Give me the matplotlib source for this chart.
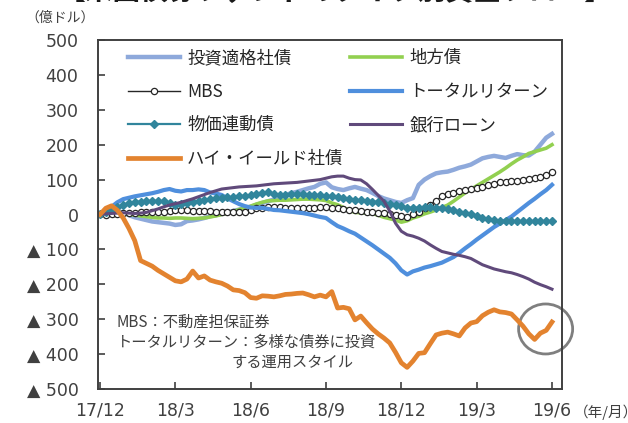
import matplotlib
matplotlib.use("Agg")
import matplotlib.pyplot as plt
from matplotlib.patches import Ellipse
import numpy as np

plt.rcParams['font.family'] = ['Noto Sans CJK JP', 'DejaVu Sans']

# ---- data (weekly cumulative flows, 100 million USD) ----
x_labels = ["17/12", "18/3", "18/6", "18/9", "18/12", "19/3", "19/6"]
y_ticks = [500, 400, 300, 200, 100, 0, -100, -200, -300, -400, -500]

ig = [0, 8, 12, 10, 5, -2, -8, -12, -16, -20, -22, -24, -26, -30, -28, -19, -17, -14, -10, -5,
      -2, 2, 7, 10, 14, 18, 22, 28, 33, 38, 43, 50, 56, 61, 65, 70, 75, 79, 88, 92,
      78, 73, 70, 75, 79, 74, 70, 62, 53, 46, 41, 36, 33, 41, 47, 85, 100, 110, 118, 121,
      123, 128, 134, 138, 143, 152, 161, 165, 168, 165, 162, 168, 173, 170, 169, 180, 200, 220, 231]
muni = [0, 3, 5, 4, 2, 0, -2, -4, -6, -8, -10, -10, -11, -10, -10, -11, -12, -11, -10, -7,
        -4, 0, 4, 9, 14, 19, 24, 30, 35, 39, 40, 41, 41, 42, 43, 44, 44, 43, 42, 40,
        33, 28, 20, 12, 6, 5, 4, 3, -2, -8, -12, -16, -22, -18, -10, -5, 2, 7, 13, 20,
        27, 38, 50, 62, 72, 82, 92, 102, 112, 122, 133, 145, 156, 165, 175, 180, 185, 190, 200]
mbs = [0, -2, 0, 2, 3, 4, 5, 7, 7, 7, 7, 8, 10, 12, 13, 12, 11, 10, 10, 9,
       8, 7, 7, 7, 7, 8, 14, 19, 20, 21, 21, 21, 20, 19, 19, 19, 19, 20, 21, 21,
       20, 18, 16, 14, 12, 10, 8, 6, 4, 3, 1, -1, -4, -7, 0, 8, 18, 28, 40, 52,
       58, 63, 67, 70, 73, 77, 80, 84, 88, 92, 94, 96, 97, 99, 101, 104, 108, 114, 122]
total_return = [0, 10, 22, 35, 44, 48, 52, 55, 58, 61, 65, 70, 73, 68, 66, 70, 70, 72, 70, 63,
                60, 56, 46, 38, 30, 24, 20, 19, 19, 16, 13, 12, 10, 8, 6, 4, 1, -3, -7, -10,
                -22, -33, -40, -48, -55, -66, -77, -88, -100, -112, -124, -140, -160, -172, -163, -158, -152, -148, -143, -138,
                -130, -122, -110, -97, -85, -72, -60, -48, -36, -26, -16, -6, 7, 20, 33, 45, 58, 70, 85]
tips = [0, 8, 15, 22, 28, 32, 36, 37, 38, 39, 39, 38, 33, 28, 30, 33, 36, 39, 42, 45,
        47, 48, 49, 50, 52, 54, 56, 60, 63, 64, 59, 56, 57, 58, 59, 58, 57, 56, 55, 53,
        52, 50, 48, 45, 42, 41, 39, 37, 36, 33, 30, 27, 24, 20, 19, 20, 21, 21, 20, 19,
        16, 12, 8, 4, 0, -5, -10, -14, -16, -18, -19, -19, -19, -20, -20, -20, -20, -20, -20]
bank_loan = [0, 2, 3, 4, 5, 4, 3, 4, 6, 11, 16, 22, 27, 31, 35, 40, 45, 51, 57, 63,
             68, 73, 75, 77, 79, 80, 81, 82, 84, 86, 88, 89, 90, 91, 92, 94, 96, 98, 100, 104,
             108, 110, 110, 104, 100, 99, 88, 72, 55, 38, 10, -25, -48, -58, -62, -68, -76, -87, -97, -106,
             -110, -114, -117, -121, -126, -135, -144, -150, -156, -160, -164, -167, -172, -178, -185, -194, -201, -207, -214]
high_yield = [0, 18, 25, 12, -10, -40, -75, -132, -140, -148, -160, -170, -180, -190, -193, -185, -162, -182, -176, -188,
              -193, -197, -205, -216, -218, -224, -238, -240, -233, -234, -236, -233, -229, -228, -226, -225, -230, -236, -231, -236,
              -221, -268, -266, -270, -302, -291, -310, -328, -342, -354, -368, -395, -425, -438, -420, -398, -396, -370, -345, -340,
              -337, -342, -348, -325, -311, -307, -290, -280, -273, -279, -281, -285, -302, -320, -342, -358, -340, -332, -308]

weeks = np.arange(len(high_yield))
x_tick_pos = np.arange(0, len(high_yield), 13)

dark = '#404040'

fig = plt.figure(figsize=(6.28, 4.23), dpi=100)
ax = fig.add_axes([98/628, 34/423, 464/628, 349/423])

l_ig, = ax.plot(weeks, ig, color='#8EA9DB', lw=3.2)
l_muni, = ax.plot(weeks, muni, color='#92D050', lw=2.6)
l_mbs, = ax.plot(weeks, mbs, color='#262626', lw=1.0, marker='o', ms=4.5,
                 mfc='white', mec='#262626', mew=0.9)
l_tr, = ax.plot(weeks, total_return, color='#4F8FDD', lw=3.0)
l_tips, = ax.plot(weeks, tips, color='#31859C', lw=1.6, marker='D', ms=3.6,
                  mfc='#31859C', mec='#31859C')
l_bl, = ax.plot(weeks, bank_loan, color='#604A7B', lw=2.2)
l_hy, = ax.plot(weeks, high_yield, color='#E3832F', lw=3.4)

ax.set_xlim(-2/5.79, 78 + 10/5.79)
ax.set_ylim(-500, 500)
ax.set_yticks(y_ticks)
ax.set_yticklabels([str(v) if v >= 0 else '▲ ' + str(-v) for v in y_ticks],
                   family=['DejaVu Sans'])
ax.set_xticks(x_tick_pos)
ax.set_xticklabels(x_labels, family=['DejaVu Sans'])
ax.tick_params(axis='both', direction='in', length=5, width=1.2, color=dark,
               labelcolor=dark, labelsize=12.5)
ax.tick_params(axis='y', pad=14)
ax.tick_params(axis='x', pad=9)
for s in ax.spines.values():
    s.set_color(dark)
    s.set_linewidth(1.4)

handles = [l_ig, l_mbs, l_tips, l_hy, l_muni, l_tr, l_bl]
labels = ['投資適格社債', 'MBS', '物価連動債', 'ハイ・イールド社債',
          '地方債', 'トータルリターン', '銀行ローン']
leg = ax.legend(handles, labels, ncol=2, loc='upper left',
                bbox_to_anchor=(30/464, 1 - 9/349), frameon=False,
                borderaxespad=0, borderpad=0, fontsize=12.5,
                handlelength=3.0, handletextpad=0.4, columnspacing=0.4,
                labelspacing=0.9)
for t in leg.get_texts():
    t.set_color('#262626')

note_kw = dict(transform=ax.transAxes, fontsize=11, color=dark, va='center', ha='left')
ax.text(19/464, 1 - 282/349, 'MBS：不動産担保証券', **note_kw)
ax.text(19/464, 1 - 302/349, 'トータルリターン：多様な債券に投資', **note_kw)
ax.text(134/464, 1 - 322/349, 'する運用スタイル', **note_kw)

# highlight circle
ax.add_patch(Ellipse((76.9, -328), width=54/5.79, height=50/0.349, fill=False,
                     edgecolor='#7F7F7F', lw=2.0, clip_on=False))

fig.text(25/628, 1 - 18/423, '（億ドル）', fontsize=10, color=dark, va='center', ha='left')
fig.text(574/628, 1 - 412/423, '（年/月）', fontsize=10.5, color=dark, va='center', ha='left')
fig.text(335/628, 1.0, '【米国債券ファンドのタイプ別資金フロー】', fontsize=20,
         fontweight='bold', color='#1a1a1a', va='baseline', ha='center')

fig.savefig('out.png', dpi=100)
